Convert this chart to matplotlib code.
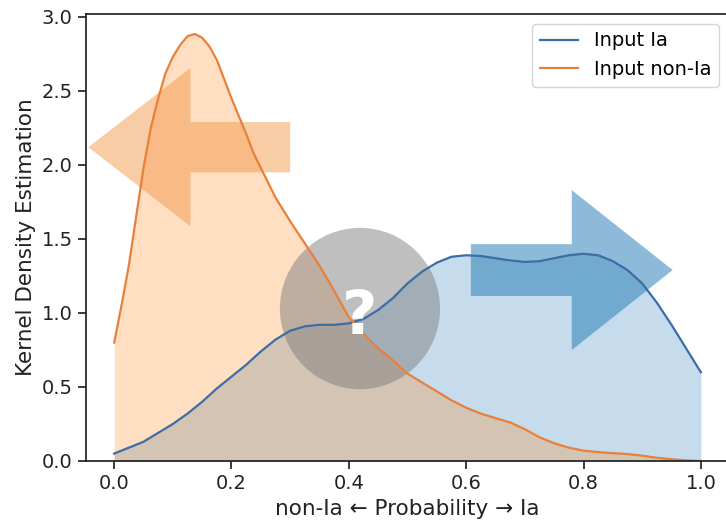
import matplotlib
matplotlib.use("Agg")
import matplotlib.pyplot as plt
from matplotlib.patches import Ellipse

# Input Ia: values
x_ia = [0.000, 0.025, 0.050, 0.075, 0.100, 0.125, 0.150, 0.175, 0.200, 0.225,
        0.250, 0.275, 0.300, 0.325, 0.350, 0.375, 0.400, 0.425, 0.450, 0.475,
        0.500, 0.525, 0.550, 0.575, 0.600, 0.625, 0.650, 0.675, 0.700, 0.725,
        0.750, 0.775, 0.800, 0.825, 0.850, 0.875, 0.900, 0.925, 0.950, 0.975, 1.000]
kde_ia = [0.05, 0.09, 0.13, 0.19, 0.25, 0.32, 0.40, 0.49, 0.57, 0.65,
          0.74, 0.82, 0.88, 0.91, 0.92, 0.92, 0.93, 0.96, 1.02, 1.10,
          1.20, 1.28, 1.34, 1.38, 1.39, 1.385, 1.37, 1.355, 1.345, 1.35,
          1.37, 1.39, 1.40, 1.39, 1.35, 1.29, 1.20, 1.07, 0.92, 0.76, 0.60]

# Input non-Ia: denser readings around the sharp peak
x_non = [0.0000, 0.0125, 0.0250, 0.0375, 0.0500, 0.0625, 0.0750, 0.0875, 0.1000,
         0.1125, 0.1250, 0.1375, 0.1500, 0.1625, 0.1750, 0.1875, 0.2000, 0.2125,
         0.2250, 0.2375, 0.2500, 0.2625, 0.2750, 0.3000, 0.325, 0.350, 0.375,
         0.400, 0.425, 0.450, 0.475, 0.500, 0.525, 0.550, 0.575, 0.600, 0.625,
         0.650, 0.675, 0.700, 0.725, 0.750, 0.775, 0.800, 0.825, 0.850, 0.875,
         0.900, 0.925, 0.950, 0.975, 1.000]
kde_non = [0.80, 1.05, 1.32, 1.65, 1.98, 2.25, 2.45, 2.62, 2.73,
           2.81, 2.87, 2.885, 2.86, 2.80, 2.71, 2.58, 2.45, 2.33,
           2.21, 2.08, 1.98, 1.88, 1.78, 1.62, 1.47, 1.32, 1.15,
           0.97, 0.86, 0.76, 0.68, 0.59, 0.53, 0.47, 0.41, 0.36, 0.32,
           0.29, 0.26, 0.215, 0.16, 0.12, 0.09, 0.07, 0.06, 0.053, 0.047,
           0.036, 0.022, 0.012, 0.004, 0.0]

blue = "#1f77b4"
orange = "#ff7f0e"

plt.rcParams["font.family"] = "DejaVu Sans"
fig = plt.figure(figsize=(7.26, 5.2), dpi=100)
ax = fig.add_axes([86 / 726, 59 / 520, 643 / 726, 447 / 520])

ax.fill_between(x_ia, 0, kde_ia, color=blue, alpha=0.25, lw=0)
ax.fill_between(x_non, 0, kde_non, color=orange, alpha=0.25, lw=0)
ax.plot(x_ia, kde_ia, color="#3a6ea5", lw=1.6, label="Input Ia")
ax.plot(x_non, kde_non, color="#e8803a", lw=1.6, label="Input non-Ia")

# direction arrows
ax.arrow(0.30, 2.12, -0.344, 0, width=0.34, head_width=1.07, head_length=0.174,
         length_includes_head=True, color="#f29a4a", alpha=0.5, lw=0)
ax.arrow(0.608, 1.29, 0.344, 0, width=0.35, head_width=1.08, head_length=0.172,
         length_includes_head=True, color=blue, alpha=0.5, lw=0)

# uncertain region
ax.add_patch(Ellipse((0.419, 1.03), 0.273, 1.09, color="gray", alpha=0.5, lw=0))
ax.text(0.419, 0.97, "?", color="white", fontsize=44, fontweight="bold",
        ha="center", va="center")

ax.set_xlim(-0.048, 1.048)
ax.set_ylim(0, 3.02)
ax.set_xticks([0.0, 0.2, 0.4, 0.6, 0.8, 1.0])
ax.set_yticks([0.0, 0.5, 1.0, 1.5, 2.0, 2.5, 3.0])
ax.tick_params(labelsize=14, length=6, width=1.25, colors="#222222")
for s in ax.spines.values():
    s.set_linewidth(1.25)
    s.set_color("#222222")
ax.set_xlabel("non-Ia \u2190 Probability \u2192 Ia", fontsize=15.5, color="#222222")
ax.set_ylabel("Kernel Density Estimation", fontsize=15.5, color="#222222")
ax.legend(loc="upper right", fontsize=14)

fig.savefig("out.png", dpi=100)
